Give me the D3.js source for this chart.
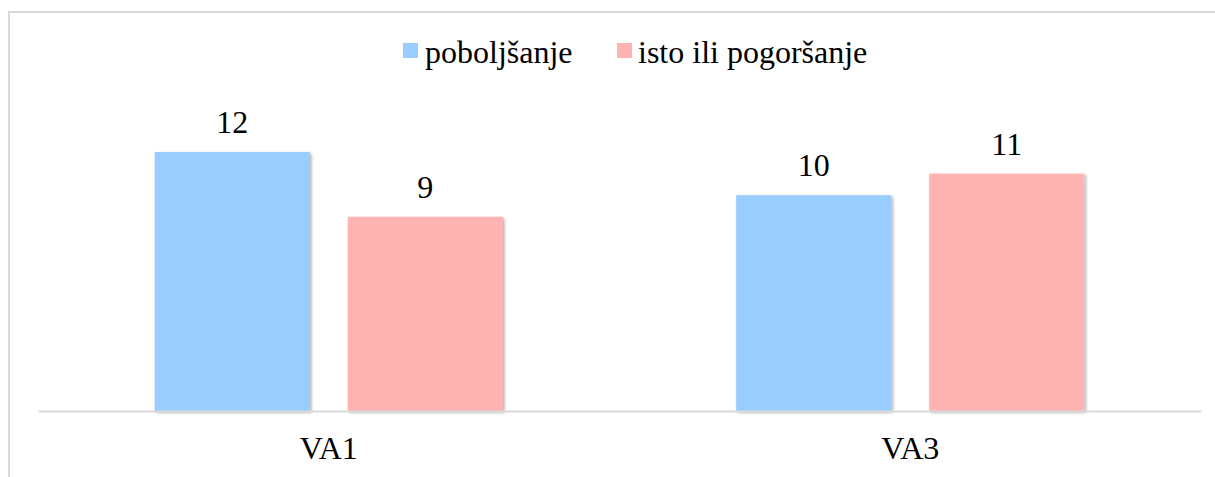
<!DOCTYPE html>
<html>
<head>
<meta charset="utf-8">
<script src="https://cdn.jsdelivr.net/npm/d3@7"></script>
<style>
  html, body { margin: 0; padding: 0; background: #fff; }
  svg { display: block; }
</style>
</head>
<body>
<script>
const categories = ["VA1", "VA3"];
const seriesNames = ["poboljšanje", "isto ili pogoršanje"];
const improved = [12, 10];
const sameOrWorse = [9, 11];
const seriesColors = ["#99CCFF", "#FFB3B3"];

const FONT = "Liberation Serif";
const FS = 32;

const W = 1215, H = 477;
const svg = d3.select("body").append("svg").attr("width", W).attr("height", H);

const defs = svg.append("defs");
const f = defs.append("filter").attr("id", "sh").attr("x", "-10%").attr("y", "-10%").attr("width", "120%").attr("height", "120%");
f.append("feDropShadow").attr("dx", 1.5).attr("dy", 1.5).attr("stdDeviation", 1.5)
  .attr("flood-color", "#000").attr("flood-opacity", 0.35);

// chart border (cropped on right/bottom)
svg.append("rect").attr("x", 9).attr("y", 12).attr("width", 1230).attr("height", 490)
  .attr("fill", "none").attr("stroke", "#d9d9d9").attr("stroke-width", 2);

const x0 = d3.scaleBand().domain(categories).range([38, 1201]).padding(0);
const x1 = d3.scaleBand().domain(seriesNames)
  .range([116.75, x0.bandwidth() - 116.75]).paddingInner(38 / 193).paddingOuter(0);
const y = d3.scaleLinear().domain([0, 14]).range([411, 108.9]);

const data = categories.map((c, i) => ({ cat: c, vals: [improved[i], sameOrWorse[i]] }));

const g = svg.append("g");
data.forEach(d => {
  d.vals.forEach((v, j) => {
    const xb = x0(d.cat) + x1(seriesNames[j]);
    g.append("rect")
      .attr("x", xb).attr("y", y(v))
      .attr("width", x1.bandwidth()).attr("height", y(0) - y(v))
      .attr("fill", seriesColors[j]).attr("filter", "url(#sh)");
    g.append("text")
      .attr("x", xb + x1.bandwidth() / 2).attr("y", y(v) - 19)
      .attr("text-anchor", "middle")
      .attr("font-family", FONT).attr("font-size", FS).attr("fill", "#000")
      .text(v);
  });
});

// axis
const axis = d3.axisBottom(x0).tickSize(0).tickPadding(0);
const ax = svg.append("g").attr("transform", `translate(0,${y(0)})`).call(axis);
ax.select(".domain").attr("stroke", "#d9d9d9").attr("stroke-width", 2);
ax.selectAll(".tick text").attr("dy", null).attr("y", 48)
  .attr("font-family", FONT).attr("font-size", FS).attr("fill", "#000");

// legend
const legendItems = [
  { name: seriesNames[0], color: seriesColors[0], sx: 403, tx: 425 },
  { name: seriesNames[1], color: seriesColors[1], sx: 617, tx: 638 }
];
const lg = svg.append("g");
legendItems.forEach(it => {
  lg.append("rect").attr("x", it.sx).attr("y", 43).attr("width", 15).attr("height", 15).attr("fill", it.color);
  lg.append("text").attr("x", it.tx).attr("y", 63)
    .attr("font-family", FONT).attr("font-size", FS).attr("fill", "#000")
    .text(it.name);
});
</script>
</body>
</html>
